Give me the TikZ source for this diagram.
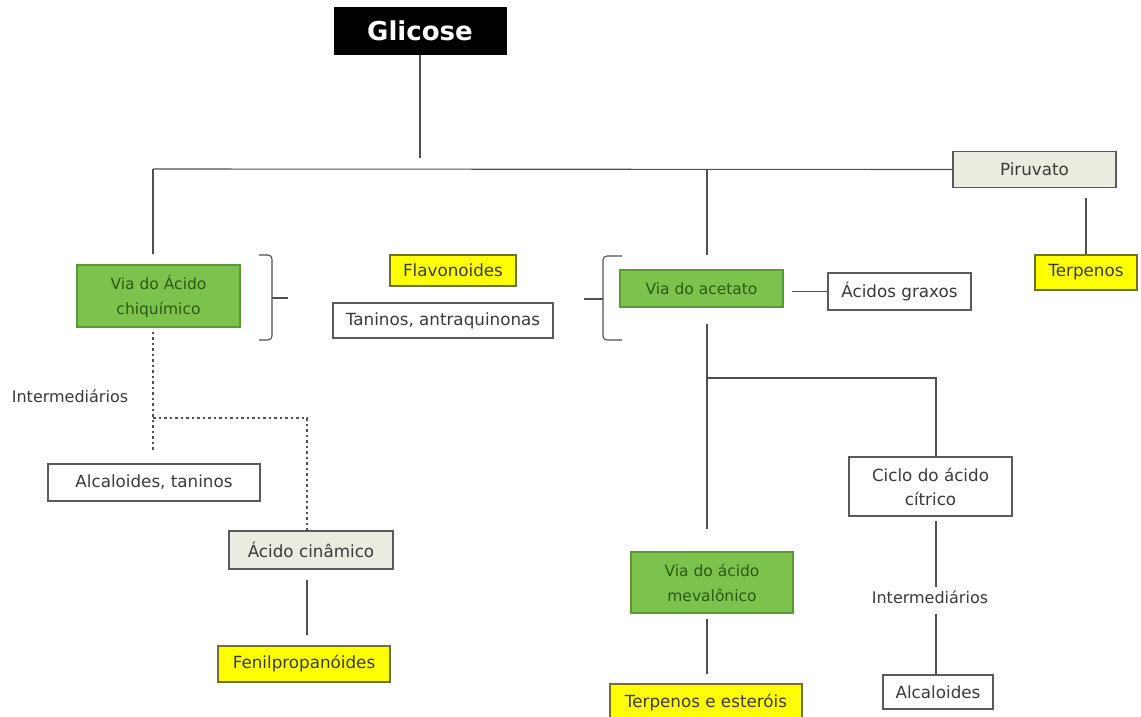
\documentclass[tikz,border=0pt]{standalone}
\usepackage{fontspec}
\setmainfont{DejaVu Sans}
\definecolor{boxline}{HTML}{5A5A5A}
\definecolor{linecol}{HTML}{505050}
\definecolor{txt}{HTML}{3A3A3A}
\definecolor{yellowfill}{HTML}{FFFF00}
\definecolor{yellowline}{HTML}{707030}
\definecolor{palefill}{HTML}{E8EDDF}
\definecolor{greenfill}{HTML}{7DC24C}
\definecolor{greenline}{HTML}{5C9838}
\definecolor{greentext}{HTML}{2A5A12}
\begin{document}
\begin{tikzpicture}[x=1pt,y=-1pt,
  every node/.style={inner sep=0pt, align=center},
  box/.style={draw=boxline, line width=1.2pt, text=txt, font=\fontsize{16.75}{24}\selectfont},
  wbox/.style={box, fill=white},
  ybox/.style={box, fill=yellowfill, draw=yellowline},
  pbox/.style={box, fill=palefill},
  gbox/.style={box, fill=greenfill, draw=greenline, text=greentext, font=\fontsize{15.5}{25}\selectfont},
  lbl/.style={text=txt, font=\fontsize{16}{19}\selectfont},
  link/.style={draw=linecol, line width=1.1pt},
  dotlink/.style={link, dash pattern=on 2.5pt off 3pt}
]
\useasboundingbox[fill=white] (0,0) rectangle (1141,717);

% boxes
\node[fill=black, text=white, font=\fontsize{26}{30}\bfseries, minimum width=173pt, minimum height=48pt] (glicose) at (420,31) {Glicose};
\node[pbox, minimum width=163pt, minimum height=36pt] (piruvato) at (1034.5,169.5) {Piruvato};
\node[ybox, minimum width=102pt, minimum height=35pt] (terpenos) at (1086,272.5) {Terpenos};
\node[gbox, minimum width=163pt, minimum height=62pt] (chiq) at (158.5,296) {Via do Ácido\\chiquímico};
\node[ybox, minimum width=126pt, minimum height=31pt] (flavo) at (453,270.5) {Flavonoides};
\node[wbox, minimum width=220pt, minimum height=35pt] (taninos) at (443,320.5) {Taninos, antraquinonas};
\node[gbox, minimum width=163pt, minimum height=37pt] (acetato) at (701.5,288.5) {Via do acetato};
\node[wbox, minimum width=143pt, minimum height=37pt] (graxos) at (899.5,291.5) {Ácidos graxos};
\node[wbox, minimum width=163pt, minimum height=59pt] (ciclo) at (930.5,486.5) {Ciclo do ácido\\cítrico};
\node[lbl] (interR) at (930,597) {Intermediários};
\node[wbox, minimum width=110pt, minimum height=34pt] (alc) at (938,692) {Alcaloides};
\node[gbox, minimum width=162pt, minimum height=61pt] (mev) at (712,582.5) {Via do ácido\\mevalônico};
\node[ybox, minimum width=192pt, minimum height=38pt] (terpest) at (706,703) {Terpenos e esteróis};
\node[lbl] (interL) at (70,396) {Intermediários};
\node[wbox, minimum width=212pt, minimum height=37pt] (alctan) at (154,482.5) {Alcaloides, taninos};
\node[pbox, minimum width=164pt, minimum height=38pt] (cin) at (311,550) {Ácido cinâmico};
\node[ybox, minimum width=172pt, minimum height=36pt] (fenil) at (304,664) {Fenilpropanóides};

% junction points
\coordinate (gstop) at (420,158);
\coordinate (hl) at (153,169);
\coordinate (jac) at (707,169);
\coordinate (br) at (707,378);
\coordinate (cb) at (936,378);
\coordinate (dj) at (153,418);
\coordinate (dk) at (307,418);

% connectors
\draw[link] (glicose.south -| gstop) -- (gstop);
\draw[link] (hl) -- (piruvato.west);
\draw[link, shorten >=10pt] (hl) -- (hl |- chiq.north);
\draw[link, shorten >=14pt] (jac) -- (jac |- acetato.north);
\draw[link, shorten <=10pt] (terpenos.north |- piruvato.south) -- (terpenos.north);
\draw[link, shorten <=8pt] (acetato.east |- graxos.west) -- (graxos.west);
\draw[link, shorten <=16pt, shorten >=22pt] (jac |- acetato.south) -- (jac |- mev.north);
\draw[link] (br) -- (cb) -- (cb |- ciclo.north);
\draw[link, shorten <=5pt, shorten >=9pt] (jac |- mev.south) -- (jac |- terpest.north);
\draw[link, shorten <=4pt, shorten >=3pt] (cb |- ciclo.south) -- (cb |- interR.north);
\draw[link, shorten <=10pt] (cb |- interR.south) -- (cb |- alc.north);
\draw[link, shorten <=10pt, shorten >=10pt] (dk |- cin.south) -- (dk |- fenil.north);
\draw[dotlink, shorten <=4pt, shorten >=12pt] (hl |- chiq.south) -- (hl |- alctan.north);
\draw[dotlink] (dj) -- (dk) -- (dk |- cin.north);

% braces
\draw[link, rounded corners=4pt] (259,255) -- (272,255) -- (272,298) -- (272,340) -- (259,340);
\draw[link] (272,298) -- (288,298);
\draw[link, rounded corners=4pt] (622,256) -- (603,256) -- (603,299) -- (603,340) -- (622,340);
\draw[link] (603,299) -- (584,299);
\end{tikzpicture}
\end{document}
